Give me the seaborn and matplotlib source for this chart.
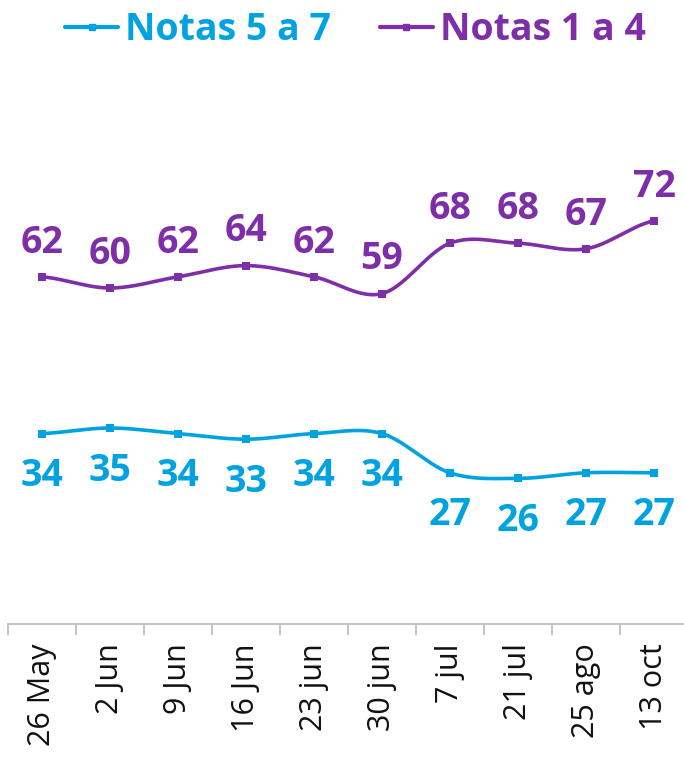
import matplotlib
matplotlib.use("Agg")
import matplotlib.pyplot as plt
from matplotlib.lines import Line2D
import seaborn as sns
import pandas as pd
import numpy as np

# Dados
fechas = ["26 May", "2 Jun", "9 Jun", "16 Jun", "23 jun", "30 jun",
          "7 jul", "21 jul", "25 ago", "13 oct"]
notas_5_7 = [34, 35, 34, 33, 34, 34, 27, 26, 27, 27]
notas_1_4 = [62, 60, 62, 64, 62, 59, 68, 68, 67, 72]

azul = "#00A3E0"
morado = "#7E2FA8"


def suavizar(ys, n=30):
    # curva tipo Catmull-Rom (como la línea suavizada de Excel)
    ys = np.asarray(ys, dtype=float)
    p = np.concatenate([[ys[0]], ys, [ys[-1]]])
    xx, yy = [], []
    for i in range(len(ys) - 1):
        p0, p1, p2, p3 = p[i], p[i + 1], p[i + 2], p[i + 3]
        t = np.linspace(0, 1, n, endpoint=False)
        y = 0.5 * ((2 * p1) + (-p0 + p2) * t + (2 * p0 - 5 * p1 + 4 * p2 - p3) * t ** 2
                   + (-p0 + 3 * p1 - 3 * p2 + p3) * t ** 3)
        xx.extend(i + t)
        yy.extend(y)
    xx.append(len(ys) - 1)
    yy.append(ys[-1])
    return np.array(xx), np.array(yy)


sns.set_style("white")
plt.rcParams["font.family"] = ["Open Sans", "DejaVu Sans"]

fig = plt.figure(figsize=(6.84, 7.57), dpi=100)
ax = fig.add_axes([8 / 684, 133 / 757, 680 / 684, 560 / 757])

pos = np.arange(len(fechas))
for serie, color, arriba in [(notas_5_7, azul, False), (notas_1_4, morado, True)]:
    sx, sy = suavizar(serie)
    sns.lineplot(x=sx, y=sy, color=color, linewidth=2.6, ax=ax, sort=False)
    sns.scatterplot(x=pos, y=serie, color=color, marker="s", s=30, linewidth=0, ax=ax, zorder=3)
    for x, v in zip(pos, serie):
        ax.text(x, v + (6.1 if arriba else -7.6), str(v), ha="center", va="center",
                fontsize=27, fontweight="bold", color=color)

ax.set_xlim(-0.5, len(fechas) - 0.5)
ax.set_ylim(0, 100)
ax.set_yticks([])
ax.set_xticks(pos)
ax.set_xticklabels(fechas, rotation=90, fontsize=22, color="#111111")
ax.set_xticks(np.arange(-0.5, len(fechas)), minor=True)
ax.tick_params(axis="x", which="major", length=0, pad=14)
ax.tick_params(axis="x", which="minor", length=8, width=1.3, color="#BFBFBF", direction="out", bottom=True)
for lado in ["top", "right", "left"]:
    ax.spines[lado].set_visible(False)
ax.spines["bottom"].set_color("#BFBFBF")
ax.spines["bottom"].set_linewidth(1.3)

handles = [Line2D([0], [0], color=azul, lw=3, marker="s", markersize=5),
           Line2D([0], [0], color=morado, lw=3, marker="s", markersize=5)]
leg = fig.legend(handles, ["Notas 5 a 7", "Notas 1 a 4"], loc="upper center",
                 bbox_to_anchor=(0.52, 1.03), ncol=2, frameon=False,
                 prop={"size": 27, "weight": "bold"}, handlelength=1.4,
                 handletextpad=0.2, columnspacing=1.3)
for txt, c in zip(leg.get_texts(), [azul, morado]):
    txt.set_color(c)

fig.savefig("out.png", dpi=100)
